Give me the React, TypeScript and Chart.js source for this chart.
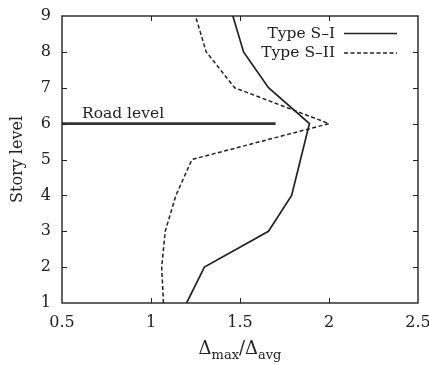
import React, { useEffect, useRef } from "react";
import { Chart, registerables } from "chart.js";

Chart.register(...registerables);

const storyLevels = [1, 2, 3, 4, 5, 6, 7, 8, 9];
const typeSI = [1.2, 1.3, 1.66, 1.79, 1.84, 1.89, 1.66, 1.52, 1.46];
const typeSII = [1.07, 1.06, 1.08, 1.14, 1.23, 2.0, 1.47, 1.31, 1.25];
const roadLevel = 6;
const roadLineX = [0.5, 1.7];
const roadLabel = "Road level";
const seriesLabels = ["Type S\u2013I", "Type S\u2013II"];
const xTicks = [0.5, 1, 1.5, 2, 2.5];
const yTitle = "Story level";

const FONT = "DejaVu Serif";
const INK = "#222";

const decorPlugin = {
  id: "decor",
  afterDraw(chart: any) {
    const { ctx, chartArea: a, scales } = chart;
    const xs = scales.x;
    const ys = scales.y;
    ctx.save();
    // frame
    ctx.strokeStyle = INK;
    ctx.lineWidth = 1.4;
    ctx.strokeRect(a.left, a.top, a.right - a.left, a.bottom - a.top);
    // inward ticks on all sides
    const tl = 5;
    ctx.lineWidth = 1;
    ctx.beginPath();
    xTicks.slice(1, -1).forEach((v) => {
      const px = Math.round(xs.getPixelForValue(v)) + 0.5;
      ctx.moveTo(px, a.bottom);
      ctx.lineTo(px, a.bottom - tl);
      ctx.moveTo(px, a.top);
      ctx.lineTo(px, a.top + tl);
    });
    storyLevels.slice(1, -1).forEach((v) => {
      const py = Math.round(ys.getPixelForValue(v)) + 0.5;
      ctx.moveTo(a.left, py);
      ctx.lineTo(a.left + tl, py);
      ctx.moveTo(a.right, py);
      ctx.lineTo(a.right - tl, py);
    });
    ctx.stroke();

    // road label
    ctx.fillStyle = INK;
    ctx.font = `15.5px "${FONT}"`;
    ctx.textAlign = "left";
    ctx.textBaseline = "alphabetic";
    ctx.fillText(roadLabel, xs.getPixelForValue(roadLineX[0]) + 20, ys.getPixelForValue(roadLevel) - 6);

    // legend
    const ds = chart.data.datasets;
    [0, 1].forEach((i) => {
      const y = a.top + 17.5 + i * 19.5;
      ctx.font = `15.5px "${FONT}"`;
      ctx.textAlign = "right";
      ctx.textBaseline = "middle";
      ctx.fillStyle = INK;
      ctx.fillText(ds[i].label, a.right - 83, y);
      ctx.beginPath();
      ctx.strokeStyle = ds[i].borderColor;
      ctx.lineWidth = ds[i].borderWidth;
      ctx.setLineDash(ds[i].borderDash || []);
      ctx.moveTo(a.right - 74, y);
      ctx.lineTo(a.right - 21, y);
      ctx.stroke();
      ctx.setLineDash([]);
    });

    // x-axis title with subscripts
    const cx = (a.left + a.right) / 2;
    const base = 354;
    const big = `18px "${FONT}"`;
    const small = `13px "${FONT}"`;
    const parts: [string, string, number][] = [
      ["\u0394", big, 0],
      ["max", small, 5],
      ["/\u0394", big, 0],
      ["avg", small, 5],
    ];
    let total = 0;
    parts.forEach(([t, f]) => {
      ctx.font = f;
      total += ctx.measureText(t).width;
    });
    let x = cx - total / 2;
    ctx.textAlign = "left";
    ctx.textBaseline = "alphabetic";
    parts.forEach(([t, f, dy]) => {
      ctx.font = f;
      ctx.fillText(t, x, base + dy);
      x += ctx.measureText(t).width;
    });
    ctx.restore();
  },
};

export default function App() {
  const ref = useRef<HTMLCanvasElement>(null);
  useEffect(() => {
    if (!ref.current) return;
    const toPts = (xsArr: number[]) => xsArr.map((v, i) => ({ x: v, y: storyLevels[i] }));
    const chart = new Chart(ref.current, {
      type: "scatter",
      data: {
        datasets: [
          {
            label: seriesLabels[0],
            data: toPts(typeSI),
            showLine: true,
            borderColor: INK,
            borderWidth: 1.7,
            pointRadius: 0,
            tension: 0,
          },
          {
            label: seriesLabels[1],
            data: toPts(typeSII),
            showLine: true,
            borderColor: INK,
            borderWidth: 1.5,
            borderDash: [4, 2.5],
            pointRadius: 0,
            tension: 0,
          },
          {
            label: roadLabel,
            data: roadLineX.map((v) => ({ x: v, y: roadLevel })),
            showLine: true,
            borderColor: "#333",
            borderWidth: 2.8,
            pointRadius: 0,
          },
        ],
      } as any,
      options: {
        responsive: false,
        animation: false,
        devicePixelRatio: 1,
        layout: { padding: { top: 16, right: 11, left: 0, bottom: 0 } },
        plugins: { legend: { display: false }, tooltip: { enabled: false } },
        scales: {
          x: {
            type: "linear",
            min: 0.5,
            max: 2.5,
            afterBuildTicks: (s: any) => {
              s.ticks = xTicks.map((v) => ({ value: v }));
            },
            afterFit: (s: any) => {
              s.height = 62;
              s.paddingLeft = 0;
              s.paddingRight = 0;
            },
            grid: { display: false, drawTicks: false },
            border: { display: false },
            ticks: {
              color: INK,
              font: { family: FONT, size: 16 },
              padding: 10,
              maxRotation: 0,
              autoSkip: false,
              callback: (v: any) => String(v),
            },
          },
          y: {
            type: "linear",
            min: 1,
            max: 9,
            afterBuildTicks: (s: any) => {
              s.ticks = storyLevels.map((v) => ({ value: v }));
            },
            afterFit: (s: any) => {
              s.width = 62;
              s.paddingTop = 0;
              s.paddingBottom = 0;
            },
            grid: { display: false, drawTicks: false },
            border: { display: false },
            title: {
              display: true,
              text: yTitle,
              color: INK,
              font: { family: FONT, size: 16 },
              padding: { top: 8, bottom: 0 },
            },
            ticks: {
              color: INK,
              font: { family: FONT, size: 16 },
              padding: 11,
              autoSkip: false,
              callback: (v: any) => String(v),
            },
          },
        },
      } as any,
      plugins: [decorPlugin],
    });
    return () => chart.destroy();
  }, []);
  return (
    <div style={{ position: "fixed", left: 0, top: 0, width: 429, height: 365, background: "#fff" }}>
      <canvas ref={ref} width={429} height={365} style={{ width: 429, height: 365 }} />
    </div>
  );
}
